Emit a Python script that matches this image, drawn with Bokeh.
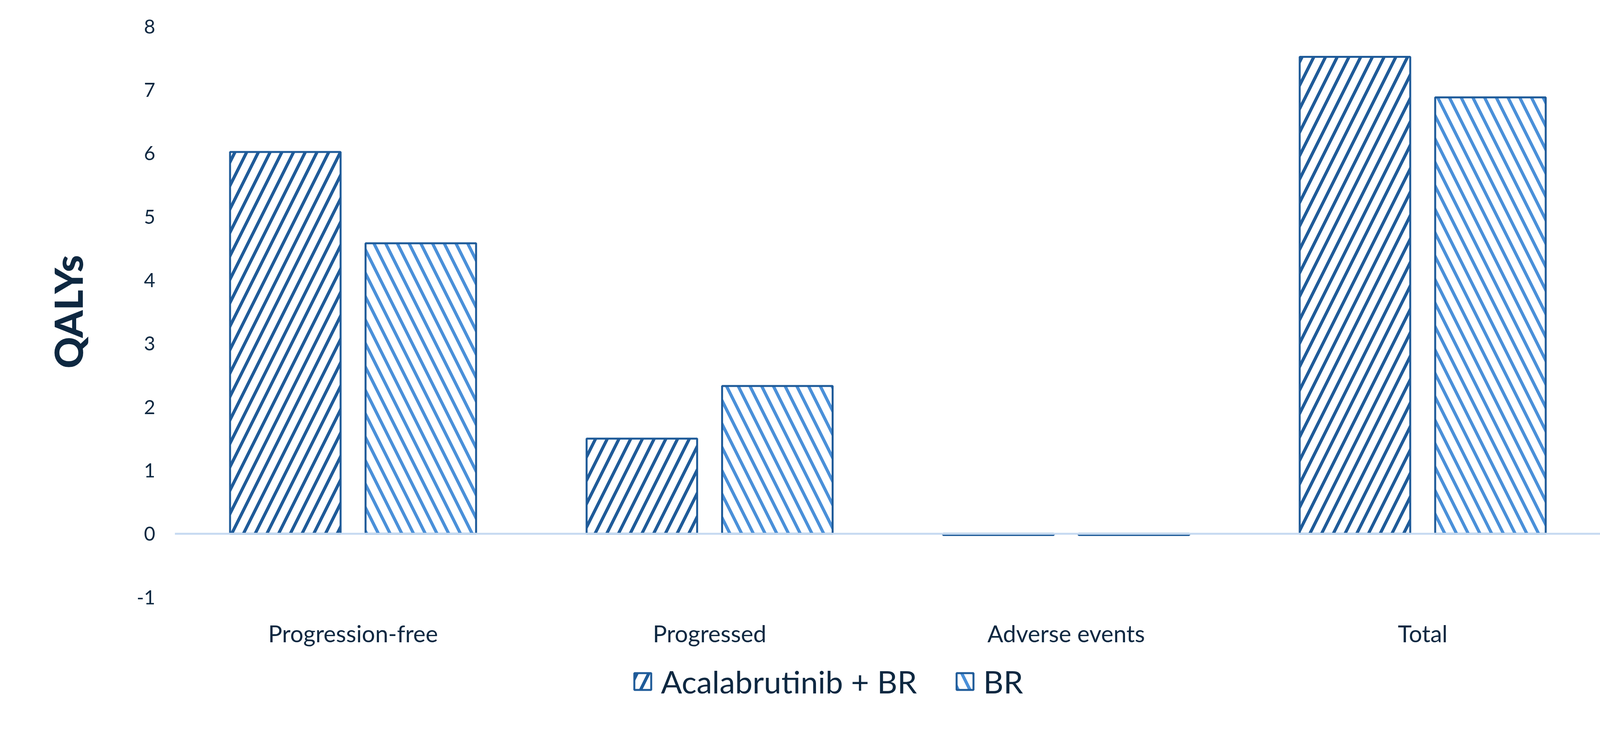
from bokeh.plotting import figure
from bokeh.layouts import column
from bokeh.models import FactorRange, Range1d, FixedTicker, Span, Legend, LegendItem, ColumnDataSource
from bokeh.transform import dodge
from bokeh.embed import file_html
from bokeh.resources import INLINE

categories = ["Progression-free", "Progressed", "Adverse events", "Total"]
acal_br = [6.02, 1.50, -0.02, 7.52]
br = [4.58, 2.33, -0.02, 6.88]
series_names = ["Acalabrutinib + BR", "BR"]
y_ticks = [-1, 0, 1, 2, 3, 4, 5, 6, 7, 8]
y_title = "QALYs"

DARK = "#1F5B99"
LIGHT = "#4A90D9"
TEXT = "#0E2841"
FONT = "Lato"
HEAVY_FONT = '"Lato Heavy", "Lato Black", "Roboto Black", "Open Sans ExtraBold", Lato'

src = ColumnDataSource(dict(cat=categories, acal=acal_br, br=br))

x_range = FactorRange(factors=categories)
y_range = Range1d(-1, 8)

bar_style = dict(width=0.31, source=src, fill_color="white", line_color=DARK, line_width=5,
                 hatch_scale=60, hatch_weight=8)

p = figure(width=4184, height=1690, x_range=x_range, y_range=y_range,
           output_backend="svg", toolbar_location=None,
           min_border_left=447, min_border_right=86,
           min_border_top=67, min_border_bottom=162)
p.outline_line_color = None
p.xgrid.visible = False
p.ygrid.visible = False

p.vbar(x=dodge("cat", -0.19, range=x_range), top="acal",
       hatch_pattern="right_diagonal_line", hatch_color=DARK, **bar_style)
p.vbar(x=dodge("cat", 0.19, range=x_range), top="br",
       hatch_pattern="left_diagonal_line", hatch_color=LIGHT, **bar_style)

p.add_layout(Span(location=0, dimension="width", line_color="#C6DAF1", line_width=5))

p.yaxis.ticker = FixedTicker(ticks=y_ticks)
p.yaxis.major_label_overrides = {-1: "-1"}
p.yaxis.axis_line_color = None
p.yaxis.major_tick_line_color = None
p.yaxis.minor_tick_line_color = None
p.yaxis.major_label_standoff = 44
p.yaxis.major_label_text_font = FONT
p.yaxis.major_label_text_font_size = "50px"
p.yaxis.major_label_text_color = TEXT
p.yaxis.axis_label = y_title
p.yaxis.axis_label_text_font = HEAVY_FONT
p.yaxis.axis_label_text_font_style = "normal"
p.yaxis.axis_label_text_font_size = "100px"
p.yaxis.axis_label_text_color = TEXT
p.yaxis.axis_label_standoff = 114

p.xaxis.axis_line_color = None
p.xaxis.major_tick_line_color = None
p.xaxis.minor_tick_line_color = None
p.xaxis.major_label_standoff = 50
p.xaxis.major_label_text_font = FONT
p.xaxis.major_label_text_font_size = "60px"
p.xaxis.major_label_text_color = TEXT

# legend strip below the chart (its own frame, aligned with the chart's frame)
pl = figure(width=4184, height=160, x_range=x_range, y_range=y_range,
            output_backend="svg", toolbar_location=None,
            x_axis_location=None, y_axis_location=None,
            min_border_left=447, min_border_right=86,
            min_border_top=0, min_border_bottom=0)
pl.outline_line_color = None
pl.xgrid.visible = False
pl.ygrid.visible = False
l1 = pl.vbar(x=dodge("cat", -0.19, range=x_range), top="acal", visible=False,
             hatch_pattern="right_diagonal_line", hatch_color=DARK, **bar_style)
l2 = pl.vbar(x=dodge("cat", 0.19, range=x_range), top="br", visible=False,
             hatch_pattern="left_diagonal_line", hatch_color=LIGHT, **bar_style)

legend = Legend(items=[LegendItem(label=series_names[0], renderers=[l1]),
                       LegendItem(label=series_names[1], renderers=[l2])],
                location=(1171, 58), orientation="horizontal",
                padding=0, margin=0, spacing=96,
                glyph_width=54, glyph_height=54, label_standoff=20,
                label_text_font=FONT, label_text_font_size="80px",
                label_text_color=TEXT,
                inactive_fill_alpha=0,
                border_line_alpha=0, background_fill_alpha=0)
pl.add_layout(legend)

layout = column(p, pl, spacing=0)
open("out.html", "w").write(file_html(layout, INLINE))
